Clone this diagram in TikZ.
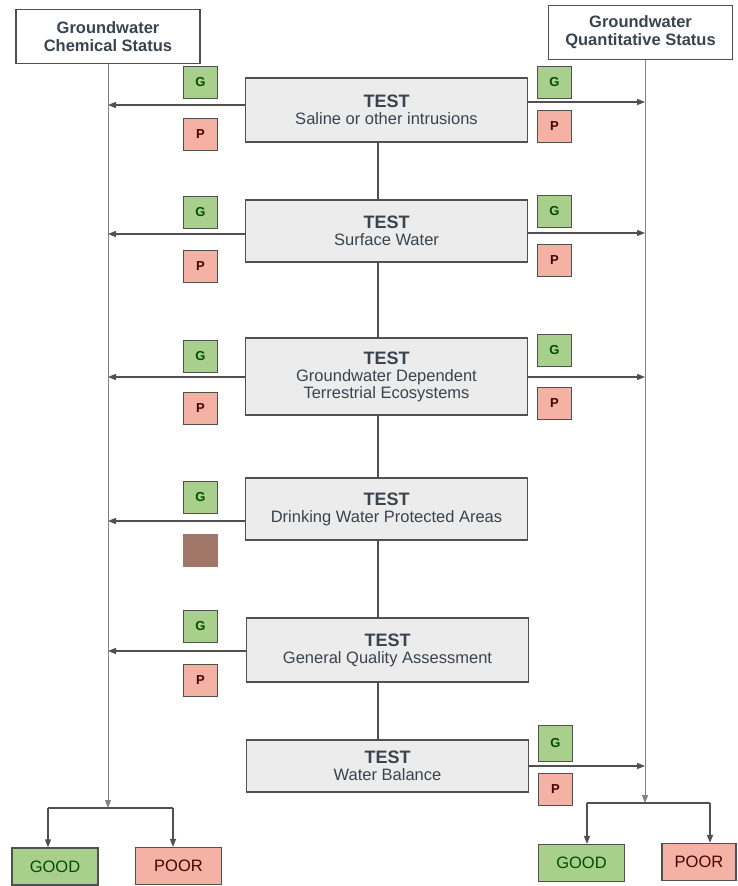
\documentclass[tikz,border=0pt]{standalone}
\usepackage{fontspec}
\setmainfont{Liberation Sans}
\usetikzlibrary{arrows.meta}
\definecolor{linegray}{RGB}{80,80,80}
\definecolor{palegray}{RGB}{130,130,130}
\definecolor{txtgray}{RGB}{58,68,78}
\definecolor{testfill}{RGB}{236,236,236}
\definecolor{goodfill}{RGB}{168,208,140}
\definecolor{poorfill}{RGB}{244,178,165}
\definecolor{blotfill}{RGB}{160,118,104}

\begin{document}
\begin{tikzpicture}[
    x=1pt, y=-1pt,
    every node/.style={align=center, text=txtgray},
    hdr/.style={draw=linegray, line width=1.2pt, fill=white, minimum width=184pt, minimum height=54pt, font=\fontsize{16.5}{18}\selectfont\bfseries},
    test/.style={draw=linegray, line width=1.2pt, fill=testfill, minimum width=282pt, font=\fontsize{16.5}{17}\selectfont},
    gmark/.style={draw=linegray, line width=1pt, fill=goodfill, minimum width=34pt, minimum height=32pt, font=\fontsize{13}{13}\selectfont\bfseries, text=green!30!black},
    pmark/.style={gmark, fill=poorfill, text=red!30!black},
    good/.style={draw=linegray, line width=1.2pt, fill=goodfill, minimum width=86pt, minimum height=37pt, font=\fontsize{16.5}{16.5}\selectfont, text=green!30!black},
    poor/.style={good, fill=poorfill, text=red!30!black},
    link/.style={draw=linegray, line width=1.2pt},
    trunk/.style={draw=palegray, line width=1pt},
    arr/.style={link, -{Triangle[length=8pt, width=6pt]}}
]
    \useasboundingbox (0,0) rectangle (737,886);

    % Status headers
    \node[hdr] (chem) at (108,36.5) {Groundwater\\Chemical Status};
    \node[hdr] (quant) at (640.5,32.5) {Groundwater\\Quantitative Status};
    \coordinate (spine) at (378,0);
    \coordinate (quantline) at (645,0);

    % Tests
    \node[test, minimum height=64pt] (t1) at (386.5,110) {{\fontsize{18}{18}\selectfont\bfseries TEST}\\Saline or other intrusions};
    \node[test, minimum height=62pt] (t2) at (386.5,231) {{\fontsize{18}{18}\selectfont\bfseries TEST}\\Surface Water};
    \node[test, minimum height=77pt] (t3) at (386.5,376.5) {{\fontsize{18}{18}\selectfont\bfseries TEST}\\Groundwater Dependent\\Terrestrial Ecosystems};
    \node[test, minimum height=62pt] (t4) at (386.5,509) {{\fontsize{18}{18}\selectfont\bfseries TEST}\\Drinking Water Protected Areas};
    \node[test, minimum height=64pt] (t5) at (387.5,650) {{\fontsize{18}{18}\selectfont\bfseries TEST}\\General Quality Assessment};
    \node[test, minimum height=52pt] (t6) at (387.5,766) {{\fontsize{18}{18}\selectfont\bfseries TEST}\\Water Balance};

    % G / P marks, chemical side
    \node[gmark] (g1l) at (200.5,82.5) {G};
    \node[pmark] (p1l) at (200.5,134) {P};
    \node[gmark] (g2l) at (200.5,212.5) {G};
    \node[pmark] (p2l) at (200.5,266.5) {P};
    \node[gmark] (g3l) at (200.5,356) {G};
    \node[pmark] (p3l) at (200.5,408.5) {P};
    \node[gmark] (g4l) at (200.5,497) {G};
    \node[pmark, fill=blotfill, draw=blotfill] (p4l) at (200.5,550.5) {};
    \node[gmark] (g5l) at (200.5,626.5) {G};
    \node[pmark] (p5l) at (200.5,680.5) {P};

    % G / P marks, quantitative side
    \node[gmark] (g1r) at (554.5,82.5) {G};
    \node[pmark] (p1r) at (554.5,126.5) {P};
    \node[gmark] (g2r) at (554.5,211.5) {G};
    \node[pmark] (p2r) at (554.5,260.5) {P};
    \node[gmark] (g3r) at (554.5,350) {G};
    \node[pmark] (p3r) at (554.5,403.5) {P};
    \node[gmark, minimum height=36pt] (g6r) at (555.5,743.5) {G};
    \node[pmark] (p6r) at (555.5,789.5) {P};

    % Results
    \node[good] (goodl) at (55,866.5) {GOOD};
    \node[poor] (poorl) at (178.5,866) {POOR};
    \node[good] (goodr) at (581.5,863) {GOOD};
    \node[poor, minimum width=74pt] (poorr) at (699,862) {POOR};

    % Arrow ends
    \coordinate (l1) at (108,105);
    \coordinate (l2) at (108,234);
    \coordinate (l3) at (108,377);
    \coordinate (l4) at (108,521);
    \coordinate (l5) at (108,651);
    \coordinate (r1) at (645,102);
    \coordinate (r2) at (645,233);
    \coordinate (r3) at (645,377);
    \coordinate (r6) at (645,766);
    \coordinate (chemfork) at (108,808);
    \coordinate (quantfork) at (645,803);
    \coordinate (gl) at (48,808);
    \coordinate (pl) at (173,808);
    \coordinate (gr) at (587,803);
    \coordinate (pr) at (710,803);

    % Connections
    \draw[trunk, -{Triangle[length=8pt, width=6pt]}] (chem.south) -- (chemfork);
    \draw[trunk, -{Triangle[length=8pt, width=6pt]}] (quant.south -| quantline) -- (quantfork);
    \foreach \a/\b in {t1/t2, t2/t3, t3/t4, t4/t5, t5/t6} {
        \draw[link] (\a.south -| spine) -- (\b.north -| spine);
    }
    \foreach \t/\e in {t1/l1, t2/l2, t3/l3, t4/l4, t5/l5} {
        \draw[arr] (\t.west |- \e) -- (\e);
    }
    \foreach \t/\e in {t1/r1, t2/r2, t3/r3, t6/r6} {
        \draw[arr] (\t.east |- \e) -- (\e);
    }
    \draw[link] (gl) -- (pl);
    \draw[link] (gr) -- (pr);
    \draw[arr] (gl) -- (goodl.north -| gl);
    \draw[arr] (pl) -- (poorl.north -| pl);
    \draw[arr] (gr) -- (goodr.north -| gr);
    \draw[arr] (pr) -- (poorr.north -| pr);
\end{tikzpicture}
\end{document}
